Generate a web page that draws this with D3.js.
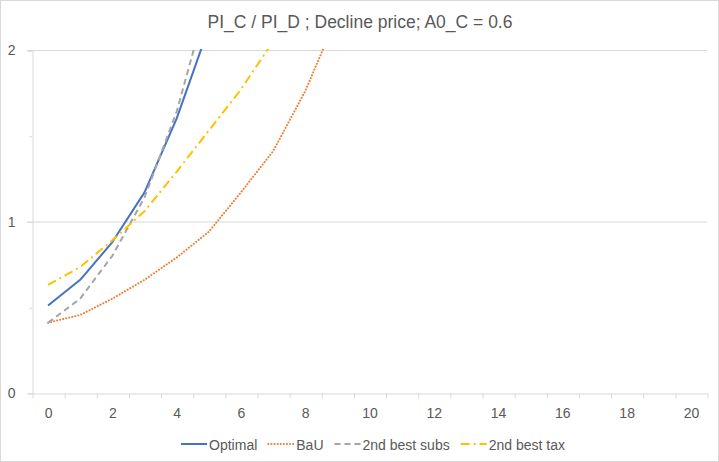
<!DOCTYPE html>
<html><head><meta charset="utf-8">
<script src="https://cdn.jsdelivr.net/npm/d3@7"></script>
<style>body{margin:0;background:#fff}svg{display:block}text{font-family:"Liberation Sans",Arial,sans-serif;fill:#595959}</style>
</head><body><svg id="c" width="719" height="462"></svg>
<script>
const categories = d3.range(0, 21);
const xTickLabels = [0,2,4,6,8,10,12,14,16,18,20];
const yTickLabels = [0,1,2];
const optimal = [0.51, 0.66, 0.88, 1.17, 1.60, 2.13];
const bau = [0.41, 0.455, 0.55, 0.66, 0.79, 0.94, 1.17, 1.41, 1.76, 2.2];
const subs = [0.41, 0.55, 0.80, 1.14, 1.64, 2.32];
const tax = [0.63, 0.735, 0.89, 1.06, 1.29, 1.53, 1.77, 2.05];
const seriesNames = ["Optimal","BaU","2nd best subs","2nd best tax"];

const series = [
  {name: seriesNames[0], values: optimal, color:"#4472C4", dash:null, cap:"butt"},
  {name: seriesNames[1], values: bau, color:"#ED7D31", dash:"0.1 3", cap:"round"},
  {name: seriesNames[2], values: subs, color:"#A5A5A5", dash:"6 4", cap:"butt"},
  {name: seriesNames[3], values: tax, color:"#FFC000", dash:"9 4 2 4", cap:"butt"}
];

const svg = d3.select("#c");
svg.append("rect").attr("x",0.5).attr("y",0.5).attr("width",718).attr("height",461)
  .attr("fill","#fff").attr("stroke","#D9D9D9");

const L=32, R=707, T=50, B=393;
const x = d3.scaleLinear().domain([-0.5, categories.length-0.5]).range([L,R]);
const y = d3.scaleLinear().domain([0,2]).range([B,T]);

// gridlines
svg.append("g").selectAll("line").data(yTickLabels.filter(d=>d>0)).join("line")
  .attr("x1",L-5).attr("x2",R).attr("y1",d=>y(d)+0.5).attr("y2",d=>y(d)+0.5)
  .attr("stroke","#D9D9D9").attr("stroke-width",1);

// y axis
const yAxis = svg.append("g").attr("transform",`translate(${L+0.5},0.5)`)
  .call(d3.axisLeft(y).tickValues(yTickLabels).tickSize(5).tickPadding(12).tickFormat(d3.format("d")));
yAxis.select(".domain").attr("stroke","#D9D9D9");
yAxis.selectAll(".tick line").attr("stroke","#D9D9D9");
yAxis.selectAll("text").style("font-size","14px").attr("fill","#595959");
svg.append("g").attr("transform",`translate(${L+0.5},0.5)`)
  .call(d3.axisLeft(y).tickValues([0.5,1.5]).tickSize(3).tickFormat(""))
  .call(g=>{g.select(".domain").remove(); g.selectAll("line").attr("stroke","#D9D9D9");});

// x axis
const xTicks = svg.append("g").attr("transform",`translate(0.5,${B+0.5})`)
  .call(d3.axisBottom(x).tickValues(d3.range(-0.5, categories.length, 1)).tickSize(5).tickSizeOuter(0).tickFormat(""));
xTicks.select(".domain").attr("stroke","#D9D9D9");
xTicks.selectAll("line").attr("stroke","#D9D9D9");
const xLab = svg.append("g").attr("transform",`translate(0,${B})`)
  .call(d3.axisBottom(x).tickValues(xTickLabels).tickSize(0).tickPadding(15).tickFormat(d3.format("d")));
xLab.select(".domain").remove();
xLab.selectAll("text").style("font-size","14px").attr("fill","#595959");

// lines
svg.append("clipPath").attr("id","clip").append("rect").attr("x",L).attr("y",T-1).attr("width",R-L).attr("height",B-T+1);
const line = d3.line().x((d,i)=>x(categories[i])).y(d=>y(d));
svg.append("g").attr("clip-path","url(#clip)").selectAll("path").data(series).join("path")
  .attr("d",d=>line(d.values)).attr("fill","none").attr("stroke",d=>d.color)
  .attr("stroke-width",2).attr("stroke-dasharray",d=>d.dash).attr("stroke-linecap",d=>d.cap)
  .attr("stroke-linejoin","round");

// title
svg.append("text").attr("x",360).attr("y",28).attr("text-anchor","middle")
  .style("font-size","17.5px").text("PI_C / PI_D ; Decline price; A0_C = 0.6");

// legend
const lg = svg.append("g");
const items = lg.selectAll("g").data(series).join("g");
items.append("line").attr("x1",0).attr("x2",26).attr("y1",0).attr("y2",0)
  .attr("stroke",d=>d.color).attr("stroke-width",2).attr("stroke-dasharray",d=>d.dash).attr("stroke-linecap",d=>d.cap);
items.append("text").attr("x",28).attr("y",5.5).style("font-size","14px").text(d=>d.name);
let pos=0; const gap=11; const widths=[];
items.each(function(){const w=28+this.querySelector("text").getComputedTextLength(); widths.push(w);});
const total = d3.sum(widths)+gap*(widths.length-1);
let start = 373 - total/2;
items.attr("transform",(d,i)=>{const t=`translate(${start+pos},444)`; pos+=widths[i]+gap; return t;});
</script></body></html>
